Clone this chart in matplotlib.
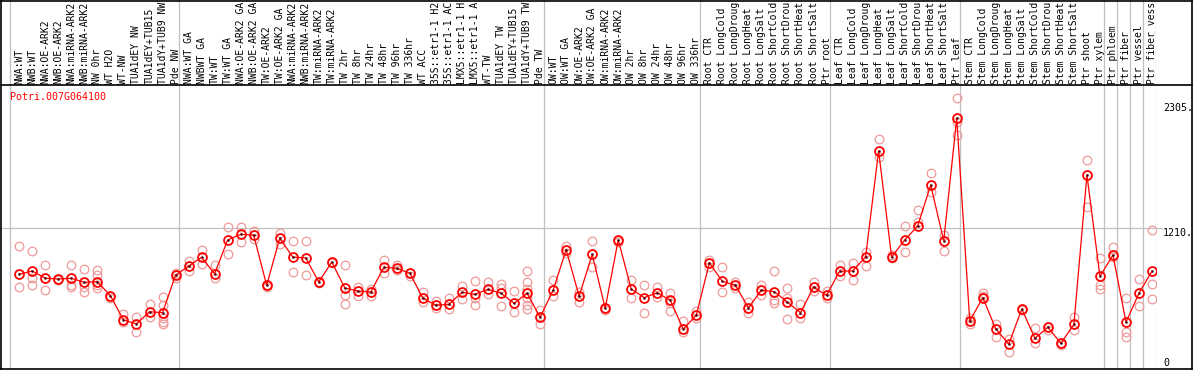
import matplotlib

matplotlib.use("Agg")
import matplotlib.pyplot as plt
from matplotlib.lines import Line2D

W, H = 1194, 370

gene = "Potri.007G064100"

labels = [
    "NWA:WT", "NWB:WT", "NWA:OE-ARK2", "NWB:OE-ARK2", "NWA:miRNA-ARK2",
    "NWB:miRNA-ARK2", "NW 0hr", "WT H2O", "WT-NW", "TUA1dEY NW",
    "TUA1dEY+TUB15", "TUA1dY+TUB9 NW", "Pde NW",
    "NWA:WT GA", "NWBWT GA", "TW:WT", "TW:WT GA", "NWA:OE-ARK2 GA",
    "NWB:OE-ARK2 GA", "TW:OE-ARK2", "TW:OE-ARK2 GA", "NWA:miRNA-ARK2",
    "NWB:miRNA-ARK2", "TW:miRNA-ARK2", "TW:miRNA-ARK2", "TW 2hr", "TW 8hr",
    "TW 24hr", "TW 48hr", "TW 96hr", "TW 336hr", "WT ACC", "35S::etr1-1 H2O",
    "35S::etr1-1 ACC", "LMX5::etr1-1 H2O", "LMX5::etr1-1 ACC", "WT-TW",
    "TUA1dEY TW", "TUA1dEY+TUB15 TW", "TUA1dY+TUB9 TW", "Pde TW",
    "OW:WT", "OW:WT GA", "OW:OE-ARK2", "OW:OE-ARK2 GA", "OW:miRNA-ARK2",
    "OW:miRNA-ARK2", "OW 2hr", "OW 8hr", "OW 24hr", "OW 48hr", "OW 96hr",
    "OW 336hr",
    "Root CTR", "Root LongCold", "Root LongDrought", "Root LongHeat",
    "Root LongSalt", "Root ShortCold", "Root ShortDrought", "Root ShortHeat",
    "Root ShortSalt", "Ptr root",
    "Leaf CTR", "Leaf LongCold", "Leaf LongDrought", "Leaf LongHeat",
    "Leaf LongSalt", "Leaf ShortCold", "Leaf ShortDrought", "Leaf ShortHeat",
    "Leaf ShortSalt", "Ptr leaf",
    "Stem CTR", "Stem LongCold", "Stem LongDrought", "Stem LongHeat",
    "Stem LongSalt", "Stem ShortCold", "Stem ShortDrought", "Stem ShortHeat",
    "Stem ShortSalt", "Ptr shoot", "Ptr xylem",
    "Ptr phloem", "Ptr fiber", "Ptr vessel", "Ptr fiber vessel",
]

group_sizes = [13, 28, 12, 10, 10, 11, 1, 1, 1, 1]

means = [
    781, 812, 744, 737, 744, 706, 712, 581, 355, 317, 432, 423, 772,
    858, 939, 786, 1101, 1154, 1147, 678, 1117, 942, 933, 709, 896, 653,
    625, 616, 846, 837, 790, 557, 492, 501, 613, 594, 641, 604, 510, 604, 380,
    632, 1010, 576, 967, 464, 1101, 644, 563, 609, 538, 268, 401,
    886, 716, 678, 469, 632, 619, 520, 423, 660, 585,
    809, 812, 942, 1931, 942, 1101, 1231, 1614, 1094, 2236,
    345, 563, 271, 131, 457, 184, 286, 137, 314, 1707, 762,
    961, 333, 606, 812,
]

replicates = [
    [1042, 662], [998, 744, 681], [865, 634], [737, 728], [865, 681, 660],
    [830, 660, 613], [821, 774, 681, 650], [557], [410, 333], [380, 240],
    [504, 385], [566, 494, 370, 339, 317], [790, 744],
    [905, 814], [1008, 874], [865, 749], [1219, 970], [1219, 1079],
    [1188, 1110], [662, 678], [1169, 1061], [1092, 802], [1092, 772],
    [709, 700], [896, 886], [865, 588, 501], [662, 581], [644, 581],
    [914, 796], [868, 818], [790, 768], [613, 525], [532, 464], [557, 457],
    [672, 548], [718, 557, 494], [712, 597], [688, 650, 485], [625, 432],
    [812, 712, 644, 557, 494, 457], [448, 314],
    [728, 581], [1048, 977], [619, 525], [1092, 852], [464, 448],
    [1101, 1082], [728, 557], [681, 417], [660, 572], [604, 510, 438],
    [345, 240], [438, 370],
    [914, 852], [852, 619], [712, 650], [520, 417], [681, 588],
    [812, 541, 510], [650, 557, 361], [504, 370], [712, 625], [625, 557],
    [868, 768], [889, 728], [992, 861], [2043, 1878], [961, 930],
    [1231, 992], [1381, 1272], [1723, 1551], [1147, 998], [2423, 2204, 2080],
    [370, 314], [604, 578], [314, 193], [177, 59], [457, 448], [277, 137],
    [286, 261], [137, 121], [385, 261], [1847, 1411], [930, 681, 644],
    [1038, 945], [557, 245, 199], [737, 485], [1191, 688, 548],
]

y_ticks = [2305, 1210, 0]
y_tick_text = ["2305.", "1210.", "0"]


def fx(px):
    return px / W


def fy(py):
    return 1 - py / H


def main() -> None:
    plt.rcParams["font.family"] = "DejaVu Sans Mono"
    fig = plt.figure(figsize=(W / 100, H / 100), dpi=100)
    fig.patch.set_facecolor("white")

    # plot area (x in sample index, y in expression value)
    ax = fig.add_axes([fx(1), fy(369), fx(1155), (369 - 85) / H])
    ax.set_xlim((1 - 19.3) / 13.02, (1156 - 19.3) / 13.02)
    ax.set_ylim((358 - 369) * 9.329, (358 - 85) * 9.329)
    ax.set_axis_off()

    # header with sample names
    hx = fig.add_axes([fx(1), fy(85), fx(1155), 85 / H], sharex=ax)
    hx.set_ylim(85, 0)
    hx.set_axis_off()

    grey = "#c0c0c0"
    start = 0
    for n in group_sizes:
        for a in (ax, hx):
            a.axvline(start - 0.72, color=grey, lw=0.9)
        start += n
    for a in (ax, hx):
        a.axvline(start - 0.72, color=grey, lw=0.9)

    ax.axhline(1210, xmin=-0.01, xmax=1.0, color=grey, lw=0.9, clip_on=False)
    fig.add_artist(Line2D([fx(1156), fx(1162)], [fy(228.3), fy(228.3)],
                          color=grey, lw=0.9))

    xs = list(range(len(labels)))
    for i, reps in enumerate(replicates):
        ax.plot([i] * len(reps), reps, "o", ms=6.2, mfc="none",
                mec="#ee9a9a", mew=0.9, ls="none")
    ax.plot(xs, means, "-", color="#ff0000", lw=0.9)
    ax.plot(xs, means, "o", ms=6.4, mfc="none", mec="#ff0000", mew=1.3)
    ax.plot(xs, means, ".", ms=1.6, color="#400000")

    for i, lab in enumerate(labels):
        hx.text(i, 83.8, lab[:14], rotation=90, ha="center", va="bottom",
                fontsize=7.0, color="black", clip_on=True)

    fig.text(fx(10), fy(97), gene, color="red", fontsize=7.2,
             va="center", ha="left")

    shift = [-8, 0, 0]
    for val, txt, dy in zip(y_ticks, y_tick_text, shift):
        py = 358 - val / 9.329 + dy
        fig.text(fx(1163), fy(py), txt, fontsize=7.2, va="top", ha="left")

    # frame lines
    for py in (0.5, 85, 369):
        fig.add_artist(Line2D([0, fx(1192)], [fy(py), fy(py)], color="black", lw=1.2))
    for px in (0.6, 1192):
        fig.add_artist(Line2D([fx(px), fx(px)], [fy(0), fy(369)], color="black", lw=1.2))

    fig.savefig("out.png", dpi=100)


if __name__ == "__main__":
    main()
